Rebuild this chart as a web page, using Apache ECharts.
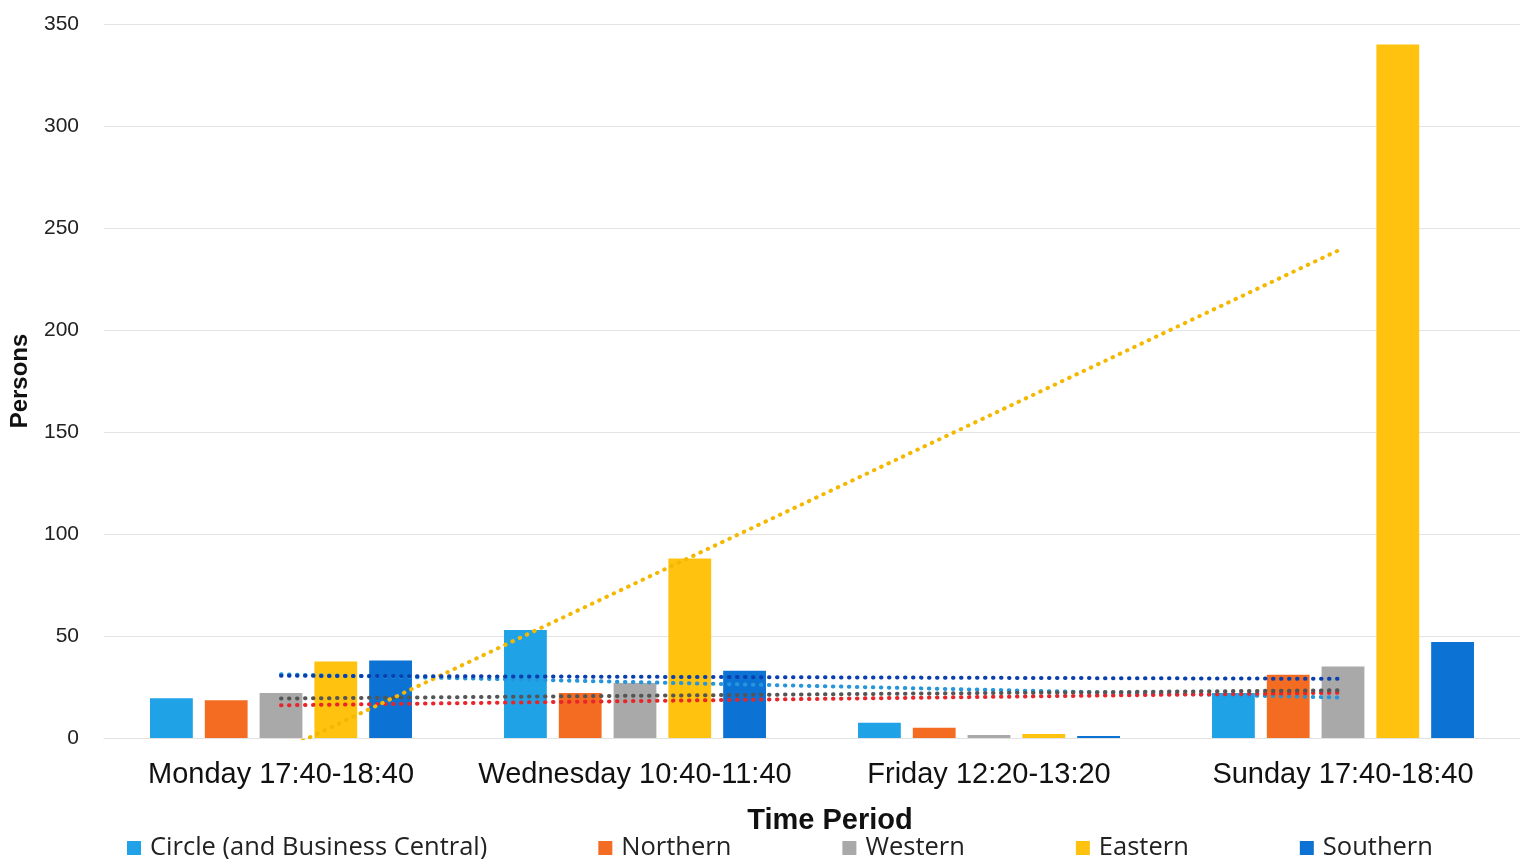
<!DOCTYPE html>
<html>
<head>
<meta charset="utf-8">
<title>Persons by Time Period</title>
<script src="https://cdn.jsdelivr.net/npm/echarts@6/dist/echarts.min.js"></script>
<style>
  html, body { margin: 0; padding: 0; background: #ffffff; }
  #chart { width: 1527px; height: 859px; }
</style>
</head>
<body>
<div id="chart"></div>
<script>
// Time periods on the category axis
const categories = ['Monday 17:40-18:40', 'Wednesday 10:40-11:40', 'Friday 12:20-13:20', 'Sunday 17:40-18:40'];

// Persons counted per precinct
const circle   = [19.5, 53, 7.5, 22];
const northern = [18.5, 22, 5, 31];
const western  = [22, 27, 1.5, 35];
const eastern  = [37.5, 88, 2, 340];
const southern = [38, 33, 1, 47];

const seriesNames = ['Circle (and Business Central)', 'Northern', 'Western', 'Eastern', 'Southern'];
const yTicks = { min: 0, max: 350, interval: 50 };

const barColors   = ['#1fa3e6', '#f46c22', '#a9a9a9', '#ffc20e', '#0c72d4'];
const trendColors = ['#2596dc', '#e8262a', '#555555', '#f5b800', '#0a3fb0'];

// Least-squares linear trend over the category positions 1..n
function linearTrend(values) {
  const n = values.length;
  let sx = 0, sy = 0, sxy = 0, sxx = 0;
  values.forEach((v, i) => { const x = i + 1; sx += x; sy += v; sxy += x * v; sxx += x * x; });
  const slope = (n * sxy - sx * sy) / (n * sxx - sx * sx);
  const intercept = (sy - slope * sx) / n;
  return values.map((_, i) => +(intercept + slope * (i + 1)).toFixed(3));
}

const dataSets = [circle, northern, western, eastern, southern];
const font = 'Liberation Sans, Arial, sans-serif';

const barSeries = dataSets.map((d, i) => ({
  name: seriesNames[i],
  type: 'bar',
  data: d,
  barGap: '28%',
  barCategoryGap: '26%',
  itemStyle: { color: barColors[i] },
  z: 2
}));

const trendSeries = dataSets.map((d, i) => ({
  name: 'Linear (' + seriesNames[i] + ')',
  type: 'line',
  data: linearTrend(d),
  symbol: 'none',
  clip: true,
  silent: true,
  lineStyle: { color: trendColors[i], width: 4, type: [0.5, 7.5], cap: 'round' },
  z: 3
}));

const chart = echarts.init(document.getElementById('chart'), null, { renderer: 'canvas' });
chart.setOption({
  animation: false,
  backgroundColor: '#ffffff',
  grid: { left: 103, right: 7, top: 24, bottom: 121 },
  legend: {
    data: seriesNames,
    top: 830,
    left: 122,
    itemGap: 111,
    itemWidth: 14,
    itemHeight: 14,
    icon: 'rect',
    textStyle: { fontFamily: 'Open Sans, sans-serif', fontSize: 25.5, color: '#222', padding: [0, 0, 0, 4] }
  },
  xAxis: {
    type: 'category',
    data: categories,
    name: 'Time Period',
    nameLocation: 'middle',
    nameGap: 68,
    nameTextStyle: { fontFamily: font, fontSize: 29, fontWeight: 'bold', color: '#111', padding: [0, 0, 0, 36] },
    axisLine: { show: true, lineStyle: { color: '#e2e2e2', width: 1 } },
    axisTick: { show: false },
    axisLabel: { interval: 0, fontFamily: font, fontSize: 29, color: '#111', margin: 22 }
  },
  yAxis: {
    type: 'value',
    min: yTicks.min,
    max: yTicks.max,
    interval: yTicks.interval,
    name: 'Persons',
    nameLocation: 'middle',
    nameGap: 72,
    nameTextStyle: { fontFamily: font, fontSize: 24, fontWeight: 'bold', color: '#111' },
    axisLine: { show: false },
    axisTick: { show: false },
    axisLabel: { fontFamily: font, fontSize: 21, color: '#222', margin: 25 },
    splitLine: { lineStyle: { color: '#e4e4e4', width: 1 } }
  },
  series: barSeries.concat(trendSeries)
});
</script>
</body>
</html>
